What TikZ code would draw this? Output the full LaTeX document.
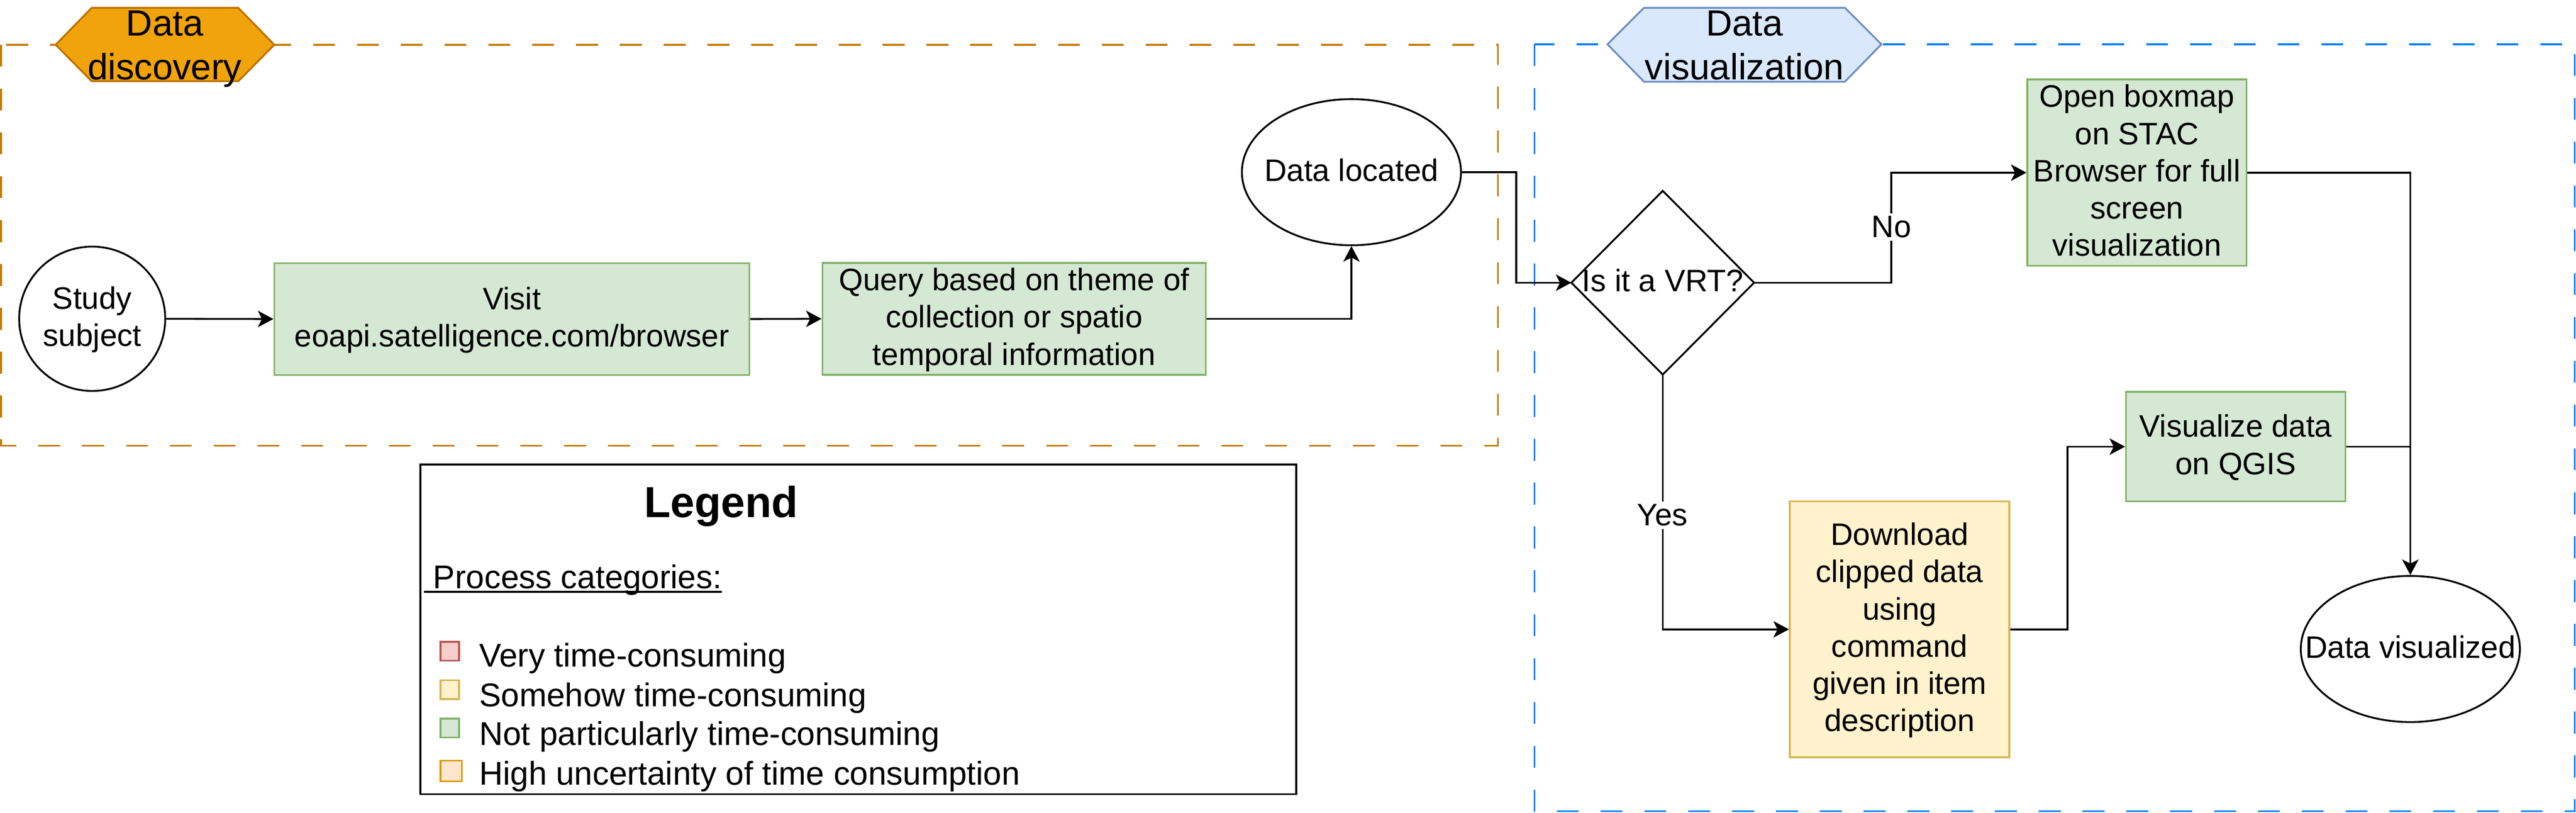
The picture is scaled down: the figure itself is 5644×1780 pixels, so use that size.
\documentclass[tikz,border=0pt]{standalone}
\usepackage{fontspec}
\setmainfont{Liberation Sans}
\usetikzlibrary{arrows.meta,calc,shapes.geometric}
\definecolor{orfill}{HTML}{F0A30A}
\definecolor{orstroke}{HTML}{BD7000}
\definecolor{ordash}{HTML}{C47A00}
\definecolor{blfill}{HTML}{DAE8FC}
\definecolor{blstroke}{HTML}{6C8EBF}
\definecolor{bldash}{HTML}{007FFF}
\definecolor{grfill}{HTML}{D5E8D4}
\definecolor{grstroke}{HTML}{82B366}
\definecolor{yefill}{HTML}{FFF2CC}
\definecolor{yestroke}{HTML}{D6B656}
\definecolor{rdfill}{HTML}{F8CECC}
\definecolor{rdstroke}{HTML}{B85450}
\definecolor{lofill}{HTML}{FFE6CC}
\definecolor{lostroke}{HTML}{D79B00}
\newcommand\ls{\rule[-0.31em]{0pt}{1.2em}}
\newcommand\hs{\rule[-0.2545em]{0pt}{1.2em}}
\tikzset{
  boxtxt/.style={font=\fontsize{68}{81.6}\selectfont, align=center, inner sep=0pt},
  greenbox/.style={boxtxt, draw=grstroke, fill=grfill, line width=4pt},
  yellowbox/.style={boxtxt, draw=yestroke, fill=yefill, line width=4pt},
  ell/.style={boxtxt, ellipse, draw=black, fill=white, line width=4pt},
  conn/.style={line width=4pt, draw=black},
  arr/.style={conn, -{Stealth[length=34pt,width=36pt,inset=9pt]}},
  lab/.style={font=\fontsize{68}{81.6}\selectfont, fill=white, inner sep=6pt},
  hextxt/.style={font=\fontsize{80}{96}\selectfont, align=center, inner sep=0pt},
  legtxt/.style={font=\fontsize{72}{86.4}\selectfont, inner sep=0pt},
  legsq/.style={line width=4pt, minimum width=41pt, minimum height=41pt, inner sep=0pt},
  contdash/.style={line width=4pt, dash pattern=on 48pt off 48pt}
}
\begin{document}
\begin{tikzpicture}[x=1pt,y=-1pt]
\useasboundingbox (0,0) rectangle (5644,1780);
\fill[white] (0,0) rectangle (5644,1780);

% containers
\draw[contdash, draw=ordash] (2,98) rectangle (3282,976);
\draw[contdash, draw=bldash] (3362,97) rectangle (5641,1776);

% hexagons
\draw[line width=4pt, draw=orstroke, fill=orfill]
  (122,98) -- (201,17) -- (522,17) -- (601,98) -- (522,178) -- (201,178) -- cycle;
\node[hextxt] (hdisc) at (361,99) {\hs Data\\\hs discovery};
\draw[line width=4pt, draw=blstroke, fill=blfill]
  (3522,97) -- (3602,17) -- (4042,17) -- (4122,97) -- (4042,179) -- (3602,179) -- cycle;
\node[hextxt] (hvis) at (3822,99) {\hs Data\\\hs visualization};

% nodes
\node[ell, minimum width=320pt, minimum height=316pt] (study) at (202,698)
  {\makebox[0pt]{\ls Study}\\\makebox[0pt]{\ls subject}};
\node[greenbox, minimum width=1041pt, minimum height=245pt] (visit) at (1121.5,698.5)
  {\ls Visit\\\ls eoapi.satelligence.com/browser};
\node[greenbox, minimum width=840pt, minimum height=244pt] (query) at (2222,698)
  {\ls Query based on theme of\\\ls collection or spatio\\\ls temporal information};
\node[ell, minimum width=480pt, minimum height=320pt] (located) at (2961,377)
  {\makebox[0pt]{\ls Data located}};
\node[boxtxt, minimum width=400pt, minimum height=402pt] (vrt) at (3643,619) {\ls Is it a VRT?};
\draw[line width=4pt] (vrt.north) -- (vrt.east) -- (vrt.south) -- (vrt.west) -- cycle;
\node[greenbox, minimum width=480pt, minimum height=402pt] (openbox) at (4682,378)
  {\ls Open boxmap\\\ls on STAC\\\ls Browser for full\\\ls screen\\\ls visualization};
\node[yellowbox, minimum width=481pt, minimum height=560pt] (download) at (4162,1378)
  {\ls Download\\\ls clipped data\\\ls using\\\ls command\\\ls given in item\\\ls description};
\node[greenbox, minimum width=481pt, minimum height=240pt] (qgis) at (4898.5,978)
  {\ls Visualize data\\\ls on QGIS};
\node[ell, minimum width=480pt, minimum height=320pt] (vis) at (5281,1421)
  {\makebox[0pt]{\ls Data visualized}};

% junction coordinates
\coordinate (j1) at (3322,377);
\coordinate (j2) at (4144,619);
\coordinate (j3) at (4530,1378);

% connectors
\draw[arr] (study.east) -- (visit.west);
\draw[arr] (visit.east) -- (query.west);
\draw[arr] (query.east) -| (located.south);
\draw[arr] (located.east) -- (j1) |- (vrt.west);
\draw[arr] (vrt.east) -- (j2) |- (openbox.west);
\draw[arr] (vrt.south) |- (download.west);
\draw[arr] (download.east) -- (j3) |- (qgis.west);
\draw[arr] (openbox.east) -| (vis.north);
\draw[conn] (qgis.east) -- (qgis.east -| vis.north);

% edge labels
\node[lab] (nolab) at (4144,497) {No};
\node[lab] (yeslab) at (3642,1128) {Yes};

% legend
\node[draw, line width=4pt, minimum width=1919pt, minimum height=722pt, inner sep=0pt] (legend) at (1880.5,1378) {};
\node[font=\bfseries\fontsize{95}{114}\selectfont, inner sep=0pt, anchor=base] (legtitle) at (1580,1133) {Legend};
\node[legtxt, anchor=base west] (pc) at (929,1289) {\ Process categories:};
\draw[line width=4pt] ([yshift=-7pt]pc.base west) -- ([yshift=-7pt]pc.base east);
\node[legsq, draw=rdstroke, fill=rdfill] (s1) at (985.5,1426) {};
\node[legsq, draw=yestroke, fill=yefill] (s2) at (985.5,1510) {};
\node[legsq, draw=grstroke, fill=grfill] (s3) at (985.5,1594) {};
\node[legsq, draw=lostroke, fill=lofill, minimum width=47pt, minimum height=45pt] (s4) at (988.5,1688) {};
\node[legtxt, anchor=base west] (t1) at (1050,1460) {Very time-consuming};
\node[legtxt, anchor=base west] (t2) at (1050,1547) {Somehow time-consuming};
\node[legtxt, anchor=base west] (t3) at (1050,1632) {Not particularly time-consuming};
\node[legtxt, anchor=base west] (t4) at (1050,1719) {High uncertainty of time consumption};
\end{tikzpicture}
\end{document}
